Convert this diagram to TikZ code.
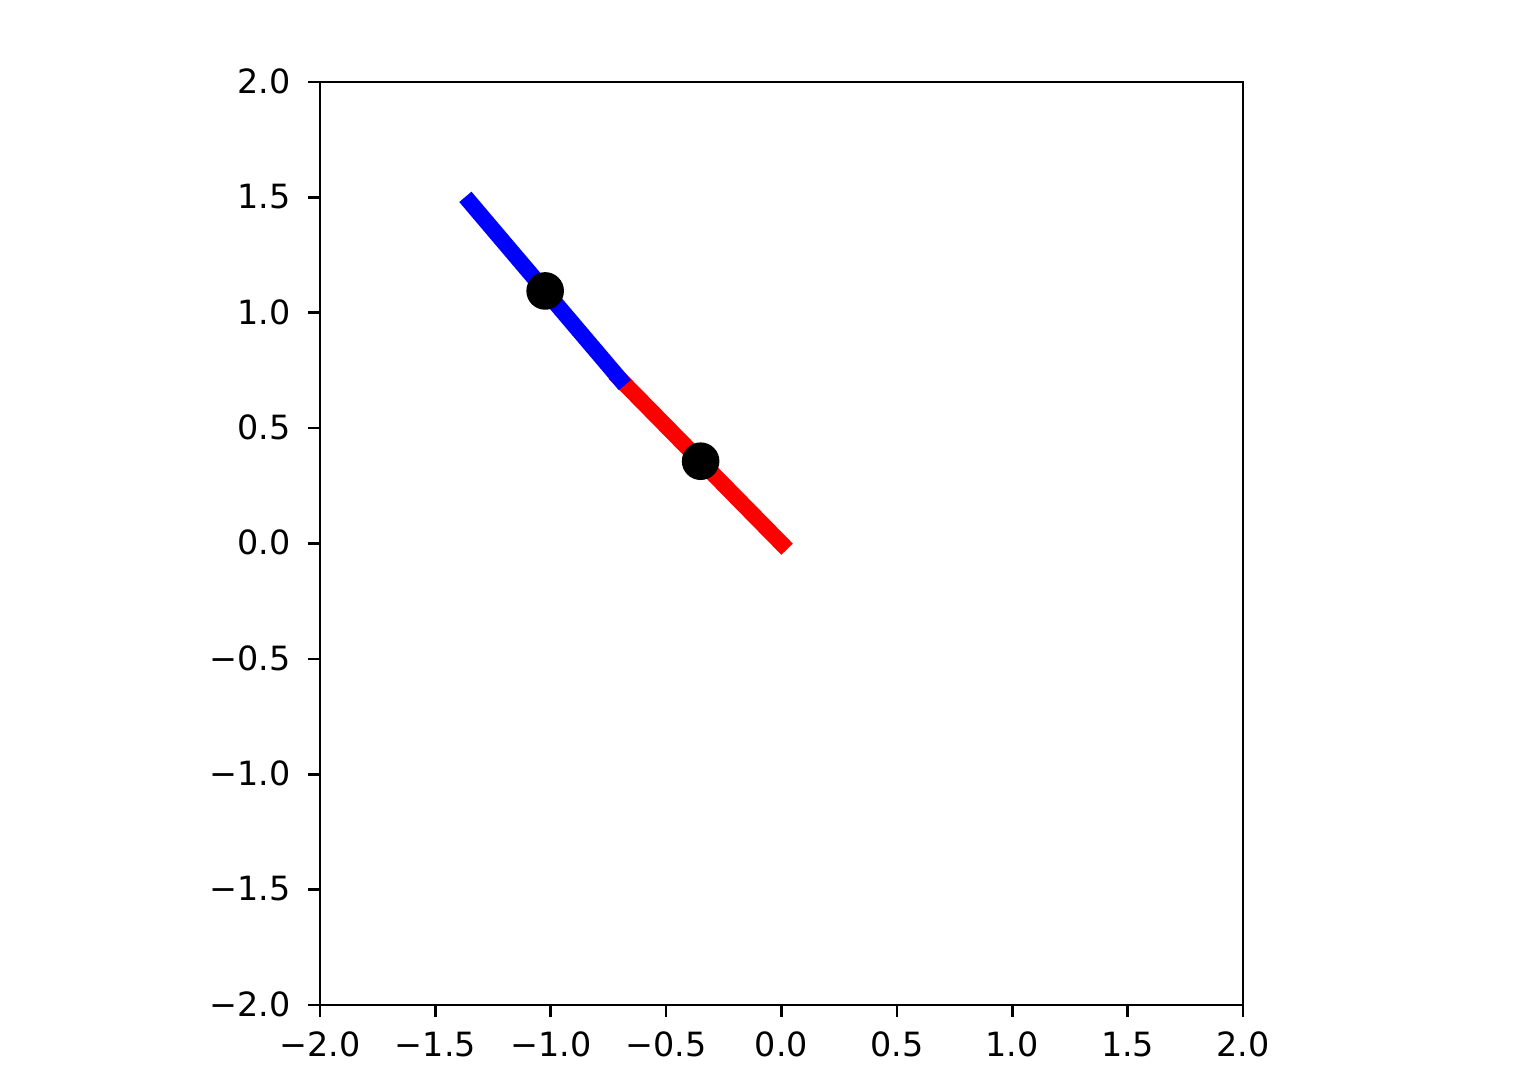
\documentclass[tikz,border=0pt]{standalone}
\usepackage{fontspec}
\setmainfont{DejaVu Sans}
\usepackage{tikz}
\usetikzlibrary{calc}

\tikzset{
    spine/.style={line width=0.76pt, black},
    tickmark/.style={line width=0.76pt, black},
    ticklabel/.style={inner sep=0pt, font=\fontsize{9.5}{11}\selectfont},
    rod/.style={line width=4.55pt, line cap=rect},
}

\begin{document}
\begin{tikzpicture}[x=2.3075cm, y=2.3075cm]
        % Fix the frame of the figure
        \useasboundingbox (-3.3868,-2.338) rectangle (3.2654,2.3554);

        % Define the pivot, the joint and the free end
        \coordinate (O) at (0, 0);
        \coordinate (J) at (134.5:1);
        \coordinate (E) at ($(J) + (130.3:1)$);

        % Draw the axes box
        \draw[spine] (-2,-2) rectangle (2,2);

        % Ticks and tick labels
        \foreach \v/\t [count=\k] in {-2/{−2.0},-1.5/{−1.5},-1/{−1.0},-0.5/{−0.5},0/{0.0},0.5/{0.5},1/{1.0},1.5/{1.5},2/{2.0}} {
            \draw[tickmark] (\v,-2) -- ++(0,-0.117cm);
            \node[ticklabel, anchor=base] (xl\k) at ($(\v,-2) + (0,-0.517cm)$) {\t};
            \draw[tickmark] (-2,\v) -- ++(-0.117cm,0);
            \node[ticklabel, anchor=base east] (yl\k) at ($(-2,\v) + (-0.29cm,-0.113cm)$) {\t};
        }

        % Draw the two rods
        \draw[rod, red] (O) -- (J);
        \draw[rod, blue] (J) -- (E);

        % Mark the middle of each rod
        \fill ($(O)!0.5!(J)$) circle (0.0815);
        \fill ($(J)!0.5!(E)$) circle (0.0815);

\end{tikzpicture}
\end{document}
